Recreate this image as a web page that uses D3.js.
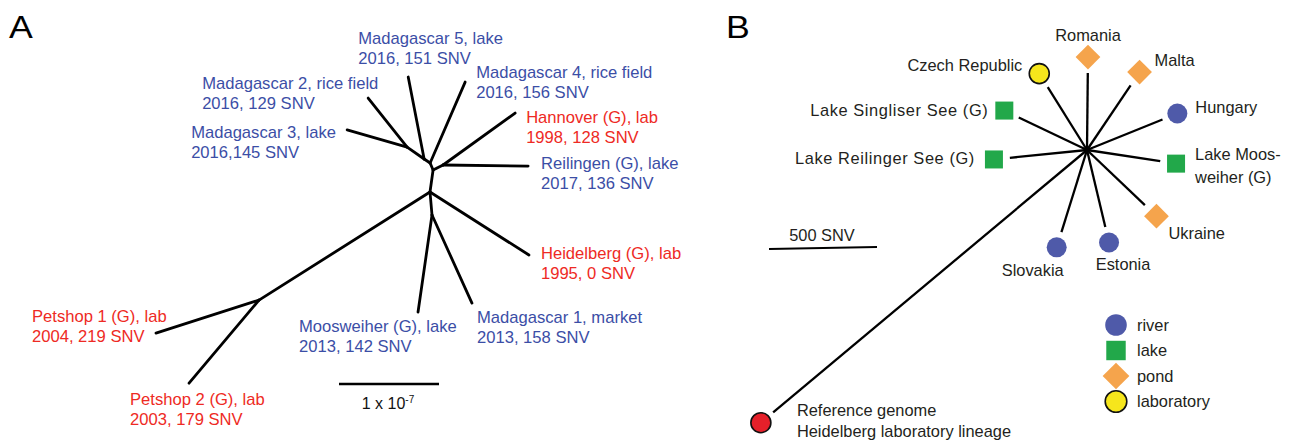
<!DOCTYPE html>
<html lang="en">
<head>
<meta charset="UTF-8">
<title>Unrooted trees A and B</title>
<script src="https://d3js.org/d3.v7.min.js"></script>
<style>
  body { margin: 0; background: #fff; }
  svg { display: block; font-family: Arial, "Liberation Sans", Helvetica, sans-serif; }
</style>
</head>
<body>
<svg id="chart" width="1293" height="441"></svg>
<script>
// ---------- Panel A data: [parent, child, branch length (x 1e-7), angle in degrees]
const edgesA = [
  ["R", "U", 0.222, -82],
  ["U", "N2", 0.076, -113],
  ["N2", "J5", 0.072, -146],
  ["J5", "J23", 0.208, -145],
  ["J23", "Mad2", 0.626, -128.5],
  ["J23", "Mad3", 0.624, -164],
  ["J5", "Mad5", 0.835, -101],
  ["N2", "Mad4", 0.882, -66.6],
  ["U", "H", 0.112, -26.6],
  ["H", "Han", 0.888, -35.8],
  ["H", "Rei", 0.85, 0.7],
  ["R", "Hei", 1.173, 32.5],
  ["R", "M", 0.231, 85],
  ["M", "Moo", 0.98, 98.2],
  ["M", "Mad1", 0.967, 65.6],
  ["R", "P", 2.023, 147.7],
  ["P", "Pet1", 1.082, 162.2],
  ["P", "Pet2", 1.086, 130.1]
];

// tip, first line, second line, origin (lab or field)
const tipsA = [
  ["Mad5", "Madagascar 5, lake", "2016, 151 SNV", "field"],
  ["Mad2", "Madagascar 2, rice field", "2016, 129 SNV", "field"],
  ["Mad4", "Madagascar 4, rice field", "2016, 156 SNV", "field"],
  ["Mad3", "Madagascar 3, lake", "2016,145 SNV", "field"],
  ["Han", "Hannover (G), lab", "1998, 128 SNV", "lab"],
  ["Rei", "Reilingen (G), lake", "2017, 136 SNV", "field"],
  ["Hei", "Heidelberg (G), lab", "1995, 0 SNV", "lab"],
  ["Moo", "Moosweiher (G), lake", "2013, 142 SNV", "field"],
  ["Mad1", "Madagascar 1, market", "2013, 158 SNV", "field"],
  ["Pet1", "Petshop 1 (G), lab", "2004, 219 SNV", "lab"],
  ["Pet2", "Petshop 2 (G), lab", "2003, 179 SNV", "lab"]
];
const scaleBarA = 1; // 1 x 10^-7

// ---------- Panel B data
const leavesB = ["Romania", "Czech Republic", "Malta", "Hungary", "Lake Singliser See (G)",
  "Lake Reilinger See (G)", "Lake Moos-weiher (G)", "Ukraine", "Estonia", "Slovakia", "Reference"];
const habitatB = ["pond", "laboratory", "pond", "river", "lake",
  "lake", "lake", "pond", "river", "river", "reference"];
const snvB = [356, 343, 361, 377, 350, 359, 343, 370, 366, 398, 1894];
const angleB = [-89.4, -122, -56, -22, -154.5, 174.2, 8.7, 43.6, 76.6, 107.3, 140.1];
const legendB = ["river", "lake", "pond", "laboratory"];
const scaleBarB = 500;

// ---------- layout
const svg = d3.select("#chart");
const colour = {
  field: "#3b4ea6", lab: "#ee2a24",
  river: "#4f5aa9", lake: "#22a84a", pond: "#f5a44c", laboratory: "#f6e61c", reference: "#e5202a"
};

svg.append("rect").attr("width", 1293).attr("height", 441).attr("fill", "#fff");

// panel letters (a bit wider than plain Arial in the original)
svg.append("text").attr("transform", "translate(9,38) scale(1.15,1)").attr("font-size", 31).text("A");
svg.append("text").attr("transform", "translate(726,38) scale(1.15,1)").attr("font-size", 31).text("B");

// ----- Panel A
const posA = { R: [0, 0] };
edgesA.forEach(([p, c, len, ang]) => {
  const a = ang * Math.PI / 180;
  posA[c] = [posA[p][0] + len * Math.cos(a), posA[p][1] + len * Math.sin(a)];
});
const xA = d3.scaleLinear().domain([0, 1]).range([430, 530]);
const yA = d3.scaleLinear().domain([0, 1]).range([192, 292]);

const gA = svg.append("g");
gA.selectAll("line.edge")
  .data(edgesA)
  .join("line")
  .attr("class", "edge")
  .attr("x1", d => xA(posA[d[0]][0]))
  .attr("y1", d => yA(posA[d[0]][1]))
  .attr("x2", d => xA(posA[d[1]][0]))
  .attr("y2", d => yA(posA[d[1]][1]))
  .attr("stroke", "#000")
  .attr("stroke-width", 2.8)
  .attr("stroke-linecap", "round");

// label offsets from the tip: [dx to text start, dy to first line centre]
const labelOffA = {
  Mad5: [-50, -39], Mad2: [-166, -15], Mad4: [11, -10], Mad3: [-156, 2],
  Han: [11, 4], Rei: [13, -3], Hei: [12, -2], Moo: [-119, 14],
  Mad1: [5, 14], Pet1: [-124, -17], Pet2: [-59, 16]
};
const lab = gA.selectAll("text.tip")
  .data(tipsA)
  .join("text")
  .attr("class", "tip")
  .attr("font-size", 16.6)
  .attr("fill", d => colour[d[3]])
  .attr("transform", d => {
    const p = posA[d[0]], o = labelOffA[d[0]];
    return `translate(${xA(p[0]) + o[0]},${yA(p[1]) + o[1]})`;
  });
lab.append("tspan").attr("x", 0).attr("dy", "0.35em").text(d => d[1]);
lab.append("tspan").attr("x", 0).attr("dy", 20.5).text(d => d[2]);

// scale bar A
const barAx = 339, barAy = 384;
gA.append("line")
  .attr("x1", barAx).attr("x2", barAx + xA(scaleBarA) - xA(0))
  .attr("y1", barAy).attr("y2", barAy)
  .attr("stroke", "#000").attr("stroke-width", 2.5);
const sbt = gA.append("text")
  .attr("x", barAx + (xA(scaleBarA) - xA(0)) / 2 - 1).attr("y", barAy + 25)
  .attr("text-anchor", "middle").attr("font-size", 16).attr("fill", "#111");
sbt.append("tspan").text("1 x 10");
sbt.append("tspan").attr("font-size", 10).attr("dy", -6).text("-7");

// ----- Panel B
const cx = 1087, cy = 150, markerGap = 16;
const rB = d3.scaleLinear().domain([0, scaleBarB]).range([0, 108]);
const leafData = leavesB.map((name, i) => {
  const a = angleB[i] * Math.PI / 180;
  const len = rB(snvB[i]);
  return {
    name, habitat: habitatB[i],
    x2: cx + len * Math.cos(a), y2: cy + len * Math.sin(a),
    mx: cx + (len + markerGap) * Math.cos(a), my: cy + (len + markerGap) * Math.sin(a)
  };
});

const gB = svg.append("g");
gB.selectAll("line.branch")
  .data(leafData)
  .join("line")
  .attr("class", "branch")
  .attr("x1", cx).attr("y1", cy)
  .attr("x2", d => d.x2).attr("y2", d => d.y2)
  .attr("stroke", "#000").attr("stroke-width", 2.3);

function drawMarker(g, habitat, x, y, big) {
  const k = big ? 1.08 : 1;
  if (habitat === "lake") {
    const s = 18 * k;
    g.append("rect").attr("x", x - s / 2).attr("y", y - s / 2).attr("width", s).attr("height", s)
      .attr("fill", colour.lake);
  } else if (habitat === "pond") {
    const s = 17.5 * k;
    g.append("rect").attr("x", -s / 2).attr("y", -s / 2).attr("width", s).attr("height", s)
      .attr("fill", colour.pond)
      .attr("transform", `translate(${x},${y}) rotate(45)`);
  } else {
    const stroked = habitat !== "river";
    g.append("circle").attr("cx", x).attr("cy", y).attr("r", 10 * k)
      .attr("fill", colour[habitat])
      .attr("stroke", stroked ? "#111" : "none")
      .attr("stroke-width", 1.6);
  }
}
leafData.forEach(d => drawMarker(gB, d.habitat, d.mx, d.my, false));

// label placement relative to marker: [anchor, dx, dy of first line centre, letter spacing]
const labelOffB = {
  "Romania": ["middle", 0, -22, 0],
  "Czech Republic": ["end", -17, -8, 0],
  "Malta": ["start", 15, -12, 0],
  "Hungary": ["start", 18, -6, 0],
  "Lake Singliser See (G)": ["end", -16, 0, 0.6],
  "Lake Reilinger See (G)": ["end", -19, -1, 0.6],
  "Lake Moos-weiher (G)": ["start", 19, -9, 0],
  "Ukraine": ["start", 12, 17, 0],
  "Estonia": ["middle", 14, 22, 0],
  "Slovakia": ["middle", -24, 23, 0],
  "Reference": ["start", 36, -12, 0]
};
const lineTexts = {
  "Lake Moos-weiher (G)": ["Lake Moos-", "weiher (G)"],
  "Reference": ["Reference genome", "Heidelberg laboratory lineage"]
};
const lineGap = { "Lake Moos-weiher (G)": 23, "Reference": 20.5 };
const labB = gB.selectAll("text.leaf")
  .data(leafData)
  .join("text")
  .attr("class", "leaf")
  .attr("font-size", 16.4)
  .attr("fill", "#231f20")
  .attr("letter-spacing", d => labelOffB[d.name][3])
  .attr("text-anchor", d => labelOffB[d.name][0])
  .attr("transform", d => `translate(${d.mx + labelOffB[d.name][1]},${d.my + labelOffB[d.name][2]})`);
labB.each(function(d) {
  const lines = lineTexts[d.name] || [d.name];
  const t = d3.select(this);
  lines.forEach((s, i) => t.append("tspan").attr("x", 0)
    .attr("dy", i === 0 ? "0.35em" : lineGap[d.name]).text(s));
});

// scale bar B
const barBx = 769, barBy = 248;
gB.append("line")
  .attr("x1", barBx).attr("x2", barBx + rB(scaleBarB))
  .attr("y1", barBy + 1).attr("y2", barBy - 1)
  .attr("stroke", "#000").attr("stroke-width", 2.2);
gB.append("text")
  .attr("x", barBx + rB(scaleBarB) / 2 - 1).attr("y", barBy - 13)
  .attr("dy", "0.35em").attr("text-anchor", "middle").attr("font-size", 16.4).attr("fill", "#231f20")
  .text(`${scaleBarB} SNV`);

// legend
const legX = 1116, legY = 325;
legendB.forEach((h, i) => {
  const y = legY + i * 25.5;
  drawMarker(gB, h, legX, y, true);
  gB.append("text").attr("x", legX + 21).attr("y", y).attr("dy", "0.35em")
    .attr("font-size", 16.4).attr("fill", "#231f20").text(h);
});
</script>
</body>
</html>
